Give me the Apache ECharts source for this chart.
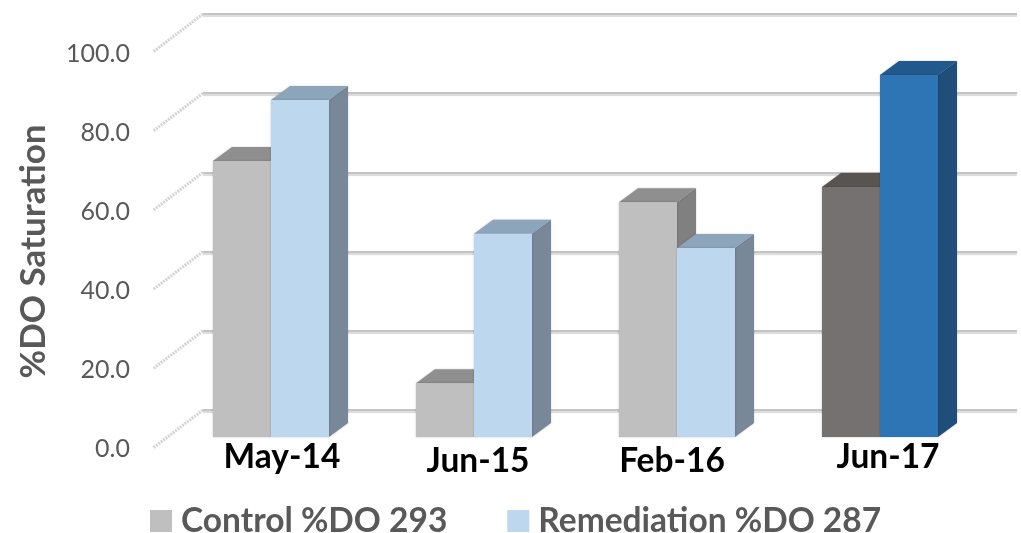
<!DOCTYPE html>
<html><head><meta charset="utf-8">
<style>html,body{margin:0;padding:0;background:#fff}#c{width:1021px;height:533px}</style>
<script src="https://cdn.jsdelivr.net/npm/echarts@6/dist/echarts.min.js"></script>
</head><body><div id="c"></div>
<script>
const categories = ['May-14','Jun-15','Feb-16','Jun-17'];
const controlValues = [69.7,13.6,59.3,63.1];
const remediationValues = [85.1,51.3,47.7,91.4];
const yTicks = [0,20,40,60,80,100];
const seriesNames = ['Control %DO 293','Remediation %DO 287'];
const labelShift = [[11,-1],[4,2],[-5,2],[8,-2]];
const controlFaces = [
  {front:'#BFBFBF',top:'#8F8F8F',side:'#808080'},
  {front:'#BFBFBF',top:'#8F8F8F',side:'#808080'},
  {front:'#BFBFBF',top:'#8F8F8F',side:'#808080'},
  {front:'#767171',top:'#585452',side:'#4F4B49'}];
const remediationFaces = [
  {front:'#BDD7EE',top:'#8DA5BB',side:'#788899'},
  {front:'#BDD7EE',top:'#8DA5BB',side:'#788899'},
  {front:'#BDD7EE',top:'#8DA5BB',side:'#788899'},
  {front:'#2E75B6',top:'#22598C',side:'#1E4E79'}];
const FONT='Lato', GREY='#595959';
const DX=19, DY=14, WIDTH_RATIO=58/203;

function barSeries(name,values,faces,sign){
  return {name,type:'custom',xAxisIndex:0,yAxisIndex:0,clip:false,
    itemStyle:{color:faces[0].front},
    encode:{x:0,y:1},
    data:values.map((v,i)=>[categories[i],v]),
    renderItem(params,api){
      const i=params.dataIndex, f=faces[i];
      const top=api.coord([api.value(0),api.value(1)]);
      const base=api.coord([api.value(0),0]);
      const w=api.size([1,0])[0]*WIDTH_RATIO;
      const x0=sign<0?top[0]-w:top[0], x1=x0+w, yt=top[1], yb=base[1];
      const sh={shadowBlur:2,shadowColor:'rgba(0,0,0,0.22)'};
      const poly=(points,fill)=>({type:'polygon',shape:{points},style:Object.assign({fill},sh)});
      return {type:'group',children:[
        poly([[x1,yt],[x1+DX,yt-DY],[x1+DX,yb-DY],[x1,yb]],f.side),
        poly([[x0,yt],[x0+DX,yt-DY],[x1+DX,yt-DY],[x1,yt]],f.top),
        poly([[x0,yt],[x1,yt],[x1,yb],[x0,yb]],f.front)
      ]};
    }};
}

const chart=echarts.init(document.getElementById('c'),null,{renderer:'canvas'});
chart.setOption({
  animation:false,
  backgroundColor:'#fff',
  legend:{
    data:seriesNames,left:145,top:499,itemWidth:22,itemHeight:22,itemGap:60,
    icon:'rect',textStyle:{fontFamily:FONT,fontWeight:'bold',fontSize:33.5,color:GREY,padding:[0,0,0,4]}
  },
  grid:[
    {left:169.5,width:812,top:41,height:396},
    {left:203,width:814,top:14,height:396},
    {left:153,width:50,top:54,height:395}
  ],
  xAxis:[
    {type:'category',gridIndex:0,data:categories.map((c,i)=>({value:c,textStyle:{
        padding:[Math.max(labelShift[i][1],0)*2,labelShift[i][0]<0?-labelShift[i][0]*2:0,labelShift[i][1]<0?-labelShift[i][1]*2:0,labelShift[i][0]>0?labelShift[i][0]*2:0]}})),
      axisLine:{show:false},axisTick:{show:false},
      axisLabel:{interval:0,margin:3,fontFamily:FONT,fontWeight:'bold',fontSize:33.5,color:'#000'}},
    {type:'value',gridIndex:1,min:0,max:1,show:false},
    {type:'value',gridIndex:2,min:0,max:1,show:false}
  ],
  yAxis:[
    {type:'value',gridIndex:0,min:0,max:100,interval:20,show:false},
    {type:'value',gridIndex:1,min:0,max:100,interval:20,
      axisLine:{show:false},axisTick:{show:false},axisLabel:{show:false},
      splitLine:{show:true,lineStyle:{color:'#C4C4C4',width:2,shadowColor:'#DADADA',shadowBlur:1,shadowOffsetY:2}}},
    {type:'value',gridIndex:2,min:0,max:100,interval:20,
      axisLine:{show:false},axisTick:{show:false},splitLine:{show:false},
      axisLabel:{margin:23,fontFamily:FONT,fontSize:25,color:GREY,formatter:v=>v.toFixed(1)},
      name:'%DO Saturation',nameLocation:'middle',nameGap:102,
      nameTextStyle:{fontFamily:FONT,fontWeight:'bold',fontSize:35,color:GREY}}
  ],
  series:[
    {name:'wall',type:'custom',xAxisIndex:1,yAxisIndex:1,clip:false,silent:true,z:1,
      data:yTicks.map(v=>[0,v]),encode:{x:0,y:1},
      renderItem(params,api){
        const p=api.coord([0,api.value(1)]);
        return {type:'line',shape:{x1:p[0],y1:p[1],x2:p[0]-50,y2:p[1]+38},
          style:{stroke:'#D4D4D4',lineWidth:3,lineDash:[2,1],fill:null}};
      }},
    Object.assign(barSeries(seriesNames[0],controlValues,controlFaces,-1),{z:3}),
    Object.assign(barSeries(seriesNames[1],remediationValues,remediationFaces,1),{z:4})
  ]
});
</script></body></html>
